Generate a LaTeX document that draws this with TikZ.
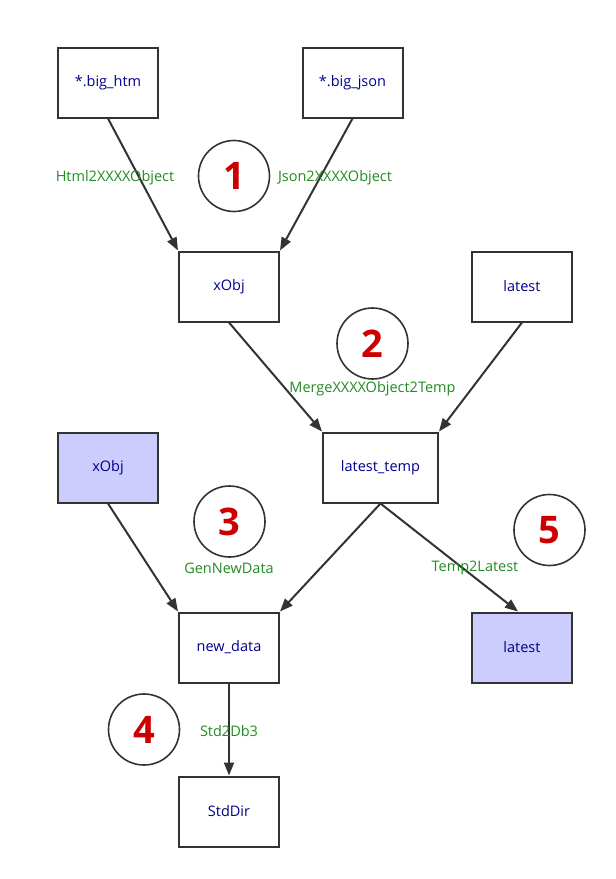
\documentclass[tikz,border=0pt]{standalone}
\usepackage{fontspec}
\setmainfont{Open Sans}
\usetikzlibrary{arrows.meta}
\definecolor{edgec}{HTML}{333333}
\definecolor{nodetxt}{HTML}{00008B}
\definecolor{lblc}{HTML}{228B22}
\definecolor{numc}{HTML}{CC0000}
\definecolor{hl}{HTML}{CCCCFF}
\tikzset{
  box/.style={draw=edgec, line width=2pt, minimum width=100pt, minimum height=70pt, inner sep=0pt, text=nodetxt, font=\fontsize{14.5}{16}\selectfont, fill=white},
  hlbox/.style={box, fill=hl},
  numc/.style={draw=edgec, line width=1.6pt, circle, minimum size=71pt, inner sep=0pt, text=numc, font=\fontsize{38}{40}\selectfont\bfseries},
  lbl/.style={text=lblc, font=\fontsize{14.5}{16}\selectfont, inner sep=0pt},
  conn/.style={draw=edgec, line width=2pt, -{Triangle[length=13pt,width=10pt]}}
}
\begin{document}
\begin{tikzpicture}[x=1pt,y=-1pt]
\useasboundingbox (0,0) rectangle (616,879);
% nodes
\node[box] (htm) at (108,82.5) {*.big\_htm};
\node[box] (json) at (352.5,82.5) {*.big\_json};
\node[box] (xobj) at (229,286.5) {xObj};
\node[box] (latest) at (522,286.5) {latest};
\node[box, minimum width=115pt] (ltemp) at (380.5,467.5) {latest\_temp};
\node[hlbox] (xobj2) at (108,467.5) {xObj};
\node[box] (newdata) at (229,647.5) {new\_data};
\node[hlbox] (latest2) at (522,647.5) {latest};
\node[box] (stddir) at (229,811.5) {StdDir};
% numbered circles
\node[numc] (n1) at (234,176) {1};
\node[numc] (n2) at (372.5,343.5) {2};
\node[numc] (n3) at (229.5,521.5) {3};
\node[numc] (n4) at (144,729.5) {4};
\node[numc] (n5) at (549.5,530) {5};
% connectors
\draw[conn] (htm.south) -- (xobj.north west);
\draw[conn] (json.south) -- (xobj.north east);
\draw[conn] (xobj.south) -- (ltemp.north west);
\draw[conn] (latest.south) -- (ltemp.north east);
\draw[conn] (xobj2.south) -- (newdata.north west);
\draw[conn] (ltemp.south) -- (newdata.north east);
\draw[conn] (ltemp.south) -- ([xshift=-4pt]latest2.north);
\draw[conn] (newdata.south) -- (stddir.north);
% labels
\node[lbl] (l1) at (115,178) {Html2XXXXObject};
\node[lbl] (l2) at (335,178) {Json2XXXXObject};
\node[lbl] (l3) at (372.5,389) {MergeXXXXObject2Temp};
\node[lbl] (l4) at (229,568) {GenNewData};
\node[lbl] (l5) at (475,568) {Temp2Latest};
\node[lbl] (l6) at (229,731.5) {Std2Db3};
\end{tikzpicture}
\end{document}
